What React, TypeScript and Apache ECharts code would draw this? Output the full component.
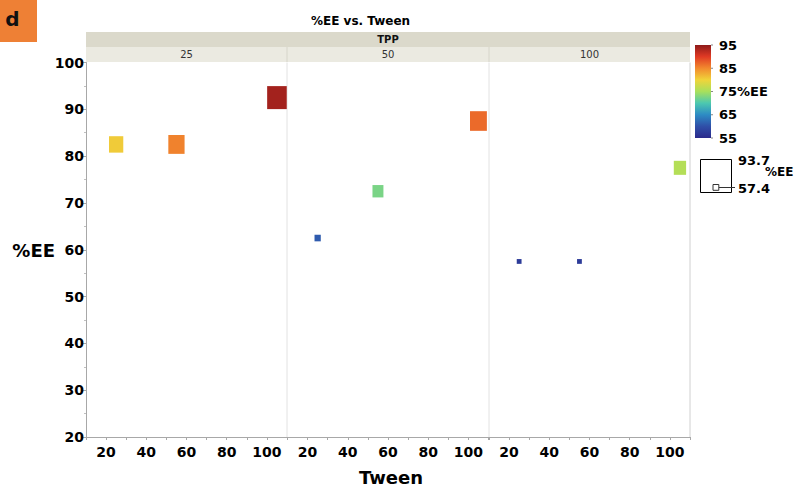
import React, { useEffect, useRef } from "react";
import * as echarts from "echarts";

// Panels (TPP levels)
const tppLevels = ["25", "50", "100"];
// Tween positions of points in every panel
const tweenValues = [25, 55, 105];
// %EE (y) values per panel
const eeTpp25 = [82.5, 82.5, 92.5];
const eeTpp50 = [62.5, 72.5, 87.5];
const eeTpp100 = [57.5, 57.5, 77.5];
// %EE values used for colour and size
const colorTpp25 = [80.6, 85.5, 93.7];
const colorTpp50 = [61.0, 72.5, 87.0];
const colorTpp100 = [57.4, 57.4, 75.8];
// Axis ticks
const yTicks = { min: 20, max: 100, step: 10 };
const xTicks = { min: 10, max: 110, step: 10 };
// Legends
const colorLegendTicks = [95, 85, 75, 65, 55];
const colorRange = [55, 95];
const sizeRange = [57.4, 93.7];
const legendName = "%EE";

const jet = [
  "#2b2a8c",
  "#2f4fa8",
  "#2d8bc4",
  "#4cc8b0",
  "#a8e05c",
  "#f0d43a",
  "#f28a2e",
  "#e03a24",
  "#8e1a1a",
];

const FONT = "DejaVu Sans";

export default function App() {
  const ref = useRef<HTMLDivElement>(null);

  useEffect(() => {
    if (!ref.current) return;
    const chart = echarts.init(ref.current, undefined, { renderer: "svg" });

    const lefts = [86, 287.5, 489];
    const panelW = 201;
    const top = 62.5;
    const height = 374.5;
    const bottom = top + height;

    const ys = [eeTpp25, eeTpp50, eeTpp100];
    const cs = [colorTpp25, colorTpp50, colorTpp100];

    const sizeOf = (v: number): number[] => {
      const t = (v - sizeRange[0]) / (sizeRange[1] - sizeRange[0]);
      return [4.8 + t * 14.8, 4.8 + t * 18.2];
    };

    const grids = lefts.map((l) => ({
      left: l,
      top,
      width: panelW,
      height,
      show: false,
      containLabel: false,
      outerBoundsMode: "none",
    }));

    const xAxes = lefts.map((_, i) => ({
      type: "value",
      gridIndex: i,
      min: xTicks.min,
      max: xTicks.max,
      interval: xTicks.step,
      axisLine: { show: true, onZero: false, lineStyle: { color: "#a8a8a8", width: 1 } },
      axisTick: { show: true, length: 3, lineStyle: { color: "#a8a8a8" } },
      axisLabel: {
        margin: 8,
        interval: 0,
        fontFamily: FONT,
        fontWeight: "bold",
        fontSize: 14,
        color: "#000",
        formatter: (v: number) => (v % 20 === 0 ? String(v) : ""),
      },
      splitLine: { show: false },
    }));

    const yAxes = lefts.map((_, i) => ({
      type: "value",
      gridIndex: i,
      min: yTicks.min,
      max: yTicks.max,
      interval: yTicks.step,
      show: i === 0,
      axisLine: { show: true, onZero: false, lineStyle: { color: "#a8a8a8", width: 1 } },
      axisTick: { show: true, length: 3, lineStyle: { color: "#a8a8a8" } },
      minorTick: { show: true, splitNumber: 2, length: 2, lineStyle: { color: "#c0c0c0" } },
      axisLabel: {
        margin: 2,
        fontFamily: FONT,
        fontWeight: "bold",
        fontSize: 14,
        color: "#000",
      },
      splitLine: { show: false },
    }));

    const series = lefts.map((_, i) => ({
      type: "scatter",
      xAxisIndex: i,
      yAxisIndex: i,
      symbol: "rect",
      symbolSize: (val: number[]) => sizeOf(val[2]),
      data: tweenValues.map((x, j) => [x, ys[i][j], cs[i][j]]),
      itemStyle: { opacity: 1 },
      z: 5,
    }));

    // Panel dividers, right border and axis titles
    const frame: any[] = [
      {
        type: "line",
        z: -1,
        shape: { x1: 287, y1: top, x2: 287, y2: bottom },
        style: { stroke: "#e2e2e2", lineWidth: 1 },
      },
      {
        type: "line",
        z: -1,
        shape: { x1: 489, y1: top, x2: 489, y2: bottom },
        style: { stroke: "#e2e2e2", lineWidth: 1 },
      },
      {
        type: "line",
        z: -1,
        shape: { x1: 690, y1: top, x2: 690, y2: bottom },
        style: { stroke: "#d0d0d0", lineWidth: 1 },
      },
      {
        type: "text",
        x: 391,
        y: 477,
        style: {
          text: "Tween",
          fontFamily: FONT,
          fontWeight: "bold",
          fontSize: 18,
          fill: "#000",
          align: "center",
          verticalAlign: "middle",
        },
      },
      {
        type: "text",
        x: 55,
        y: 250,
        style: {
          text: legendName,
          fontFamily: FONT,
          fontWeight: "bold",
          fontSize: 18,
          fill: "#000",
          align: "right",
          verticalAlign: "middle",
        },
      },
    ];

    // Colour legend
    const barX = 695;
    const barY = 45;
    const barW = 16;
    const barH = 93;
    const colorStops = jet
      .map((c, k) => ({ offset: 1 - k / (jet.length - 1), color: c }))
      .reverse();

    const legendGraphics: any[] = [
      {
        type: "rect",
        shape: { x: barX, y: barY, width: barW, height: barH },
        style: {
          fill: new echarts.graphic.LinearGradient(0, 0, 0, 1, colorStops),
        },
      },
    ];
    colorLegendTicks.forEach((v) => {
      const y = barY + ((colorRange[1] - v) / (colorRange[1] - colorRange[0])) * barH;
      legendGraphics.push({
        type: "line",
        shape: { x1: barX + barW, y1: y, x2: barX + barW + 2, y2: y },
        style: { stroke: "#888", lineWidth: 1 },
      });
      legendGraphics.push({
        type: "text",
        x: 719,
        y,
        style: {
          text: v === 75 ? `${v}${legendName}` : String(v),
          fontFamily: FONT,
          fontWeight: "bold",
          fontSize: 13,
          fill: "#000",
          verticalAlign: "middle",
        },
      });
    });

    // Size legend
    const smallS = sizeOf(sizeRange[0]);
    legendGraphics.push(
      {
        type: "rect",
        shape: { x: 700.5, y: 159.5, width: 31, height: 33 },
        style: { fill: "none", stroke: "#000", lineWidth: 1 },
      },
      {
        type: "rect",
        shape: { x: 713, y: 184.5, width: smallS[0] + 1, height: smallS[0] + 1 },
        style: { fill: "none", stroke: "#333", lineWidth: 1 },
      },
      {
        type: "line",
        shape: { x1: 719, y1: 187.5, x2: 735, y2: 187.5 },
        style: { stroke: "#333", lineWidth: 1 },
      },
      {
        type: "text",
        x: 738,
        y: 160,
        style: {
          text: sizeRange[1].toFixed(1),
          fontFamily: FONT,
          fontWeight: "bold",
          fontSize: 13,
          fill: "#000",
          verticalAlign: "middle",
        },
      },
      {
        type: "text",
        x: 765,
        y: 172,
        style: {
          text: legendName,
          fontFamily: FONT,
          fontWeight: "bold",
          fontSize: 12,
          fill: "#000",
          verticalAlign: "middle",
        },
      },
      {
        type: "text",
        x: 738,
        y: 188,
        style: {
          text: sizeRange[0].toFixed(1),
          fontFamily: FONT,
          fontWeight: "bold",
          fontSize: 13,
          fill: "#000",
          verticalAlign: "middle",
        },
      }
    );

    // Header bands
    const headerGraphics: any[] = [
      {
        type: "rect",
        shape: { x: 86, y: 32, width: 604, height: 15 },
        style: { fill: "#dbd9cb" },
      },
      {
        type: "rect",
        shape: { x: 86, y: 47, width: 604, height: 15 },
        style: { fill: "#ebeae1" },
      },
      {
        type: "text",
        x: 388,
        y: 39.5,
        style: {
          text: "TPP",
          fontFamily: FONT,
          fontWeight: "bold",
          fontSize: 10,
          fill: "#111",
          align: "center",
          verticalAlign: "middle",
        },
      },
    ];
    tppLevels.forEach((t, i) => {
      headerGraphics.push({
        type: "text",
        x: lefts[i] + panelW / 2,
        y: 54.5,
        style: {
          text: t,
          fontFamily: FONT,
          fontSize: 10,
          fill: "#333",
          align: "center",
          verticalAlign: "middle",
        },
      });
      if (i > 0) {
        headerGraphics.push({
          type: "line",
          shape: { x1: i === 1 ? 287 : 489, y1: 47, x2: i === 1 ? 287 : 489, y2: 62 },
          style: { stroke: "#d6d5ca", lineWidth: 1 },
        });
      }
    });

    // Badge
    const badge: any[] = [
      {
        type: "rect",
        shape: { x: 0, y: 0, width: 37, height: 42 },
        style: { fill: "#ee8035" },
      },
      {
        type: "text",
        x: 12.5,
        y: 19,
        style: {
          text: "d",
          fontFamily: FONT,
          fontWeight: "bold",
          fontSize: 20,
          fill: "#111",
          align: "center",
          verticalAlign: "middle",
        },
      },
    ];

    chart.setOption({
      animation: false,
      backgroundColor: "#ffffff",
      title: {
        text: "%EE vs. Tween",
        left: 311,
        top: 15,
        padding: 0,
        textStyle: { fontFamily: FONT, fontWeight: "bold", fontSize: 12, color: "#000" },
      },
      grid: grids,
      xAxis: xAxes,
      yAxis: yAxes,
      visualMap: [
        {
          type: "continuous",
          show: false,
          dimension: 2,
          min: colorRange[0],
          max: colorRange[1],
          seriesIndex: [0, 1, 2],
          inRange: { color: jet },
        },
      ],
      series,
      graphic: [...badge, ...headerGraphics, ...frame, ...legendGraphics],
    });

    return () => chart.dispose();
  }, []);

  return (
    <div
      ref={ref}
      style={{ position: "fixed", left: 0, top: 0, width: 794, height: 486 }}
    />
  );
}
